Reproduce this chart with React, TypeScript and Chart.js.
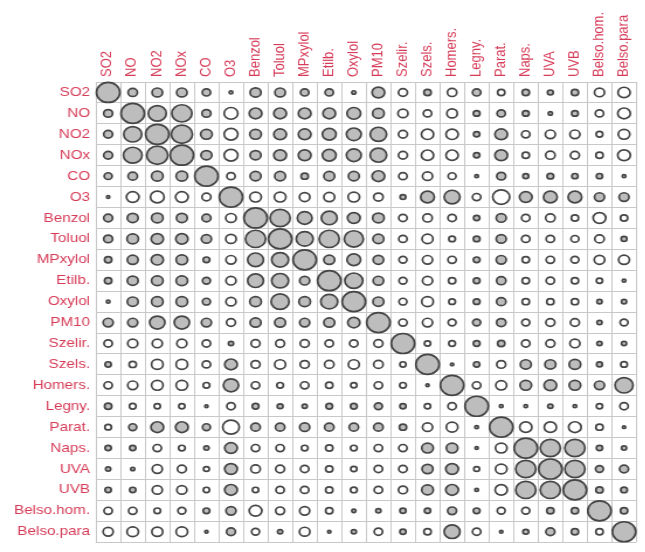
import React, { useEffect, useRef } from 'react';
import { Chart, registerables } from 'chart.js';

Chart.register(...registerables);

// Variable names (rows and columns share them)
const VARS: string[] = [
  'SO2', 'NO', 'NO2', 'NOx', 'CO', 'O3', 'Benzol', 'Toluol', 'MPxylol', 'Etilb.', 'Oxylol',
  'PM10', 'Szelir.', 'Szels.', 'Homers.', 'Legny.', 'Parat.', 'Naps.', 'UVA', 'UVB',
  'Belso.hom.', 'Belso.para',
];

// Correlation rows (positive = grey circle, negative = white circle, magnitude = size)
const SO2 = [1, .35, .4, .4, .3, .08, .42, .4, .3, .3, .1, .5, -.33, .25, -.35, .3, -.25, .25, .18, .25, -.38, -.48];
const NO = [.33, 1, .75, .85, .33, -.55, .5, .5, .5, .5, .55, .45, -.38, -.3, -.4, .22, .3, .22, .1, .22, -.3, -.5];
const NO2 = [.33, .75, 1, .9, .45, -.55, .45, .5, .5, .55, .6, .68, -.33, -.48, -.48, .2, .5, -.3, -.38, -.38, -.22, -.45];
const NOX = [.33, .78, .9, 1, .42, -.55, .42, .5, .5, .55, .6, .68, -.33, -.48, -.48, .2, .5, -.25, -.35, -.33, -.25, -.5];
const CO = [.28, .35, .45, .45, 1, -.3, .42, .42, .25, .42, .42, .5, -.3, -.38, -.28, .08, .33, .18, .22, .2, .2, .08];
const O3 = [.06, -.5, -.55, -.5, -.33, 1, -.45, -.45, -.4, -.42, -.45, -.35, .18, .55, .65, -.3, -.7, .5, .55, .55, .38, .38];
const BENZOL = [.33, .42, .45, .42, .33, -.4, 1, .85, .6, .65, .5, .45, -.3, -.35, -.3, .2, .38, -.3, -.35, -.25, -.5, -.25];
const TOLUOL = [.33, .45, .48, .48, .38, -.4, .85, 1, .7, .85, .8, .42, -.3, -.42, -.22, .22, .38, -.3, -.3, -.28, -.35, .18];
const MPXYLOL = [.25, .42, .48, .45, .22, -.38, .65, .7, 1, .42, .55, .4, -.28, -.38, -.3, .22, .38, -.25, -.3, -.28, -.4, -.42];
const ETILB = [.25, .42, .45, .45, .28, -.38, .65, .7, .38, 1, .75, .4, -.28, -.38, -.25, .22, .35, -.25, -.3, -.25, -.2, .08];
const OXYLOL = [.08, .42, .45, .45, .28, -.38, .45, .75, .45, .7, 1, .42, -.28, -.45, -.22, .22, .35, -.25, -.25, -.25, .15, .15];
const PM10 = [.38, .38, .62, .62, .38, -.33, .42, .42, .38, .42, .48, 1, -.3, -.38, -.28, .28, .35, -.28, -.33, -.33, .15, -.28];
const SZELIR = [-.3, -.38, -.38, -.38, -.3, .15, -.33, -.33, -.33, -.3, -.3, -.33, 1, -.2, -.22, .22, .25, -.3, -.33, -.38, .15, .15];
const SZELS = [.2, -.25, -.45, -.45, -.3, .5, -.33, -.42, -.33, -.35, -.42, -.35, -.2, 1, .06, .2, -.33, .42, .42, .45, .18, -.22];
const HOMERS = [-.3, -.38, -.45, -.45, -.22, .62, -.3, -.22, -.3, -.25, -.2, -.3, -.22, .06, 1, -.3, -.42, .45, .5, .45, .38, .75];
const LEGNY = [.25, -.22, -.2, -.2, .06, -.3, .22, .18, .15, .22, .22, .28, .2, -.2, -.3, 1, .08, .08, .15, .08, -.2, -.3];
const PARAT = [-.22, .28, .5, .5, .28, -.68, .35, .35, .38, .35, .35, .35, .25, -.38, -.45, .08, 1, -.48, -.48, -.5, -.25, .06];
const NAPS = [.2, .2, -.3, -.22, .15, .5, -.3, -.3, -.22, -.25, -.22, -.3, -.3, .45, .45, .06, -.45, 1, .85, .85, .2, .15];
const UVA = [.15, .1, -.38, -.33, -.18, .5, -.35, -.33, -.3, -.25, -.2, -.3, -.3, .42, .5, -.18, -.45, .85, 1, .85, .28, .33];
const UVB = [.2, .2, -.38, -.38, -.2, .5, -.2, -.3, -.3, -.25, -.22, -.3, -.33, .45, .5, .08, -.48, .85, .85, 1, .25, .22];
const BELSO_HOM = [-.3, -.3, -.22, -.28, .22, .38, -.5, -.33, -.38, -.25, .1, .15, .2, .2, .33, .22, -.28, -.28, .25, .25, 1, .25];
const BELSO_PARA = [-.38, -.45, -.42, -.45, .06, .33, -.28, .15, -.4, .06, .15, -.3, .2, -.25, .65, -.3, .06, .18, .33, .25, -.25, 1];

const ROWS: number[][] = [
  SO2, NO, NO2, NOX, CO, O3, BENZOL, TOLUOL, MPXYLOL, ETILB, OXYLOL, PM10,
  SZELIR, SZELS, HOMERS, LEGNY, PARAT, NAPS, UVA, UVB, BELSO_HOM, BELSO_PARA,
];

const RMIN = 0.8;
const RSCALE = 9.2;
const LABEL_COLOR = '#d63c58';
const GRID_COLOR = '#c8c8c8';
const FONT = { family: '"Liberation Sans", Arial, sans-serif', size: 13 };

export default function App() {
  const ref = useRef<HTMLCanvasElement>(null);

  useEffect(() => {
    if (!ref.current) return;
    const points: any[] = [];
    ROWS.forEach((row, i) => {
      row.forEach((v, j) => {
        points.push({ x: VARS[j], y: VARS[i], r: RMIN + Math.abs(v) * RSCALE, v });
      });
    });

    const chart = new Chart(ref.current, {
      type: 'bubble',
      data: {
        datasets: [
          {
            data: points,
            backgroundColor: (ctx: any) => (ctx.raw && ctx.raw.v > 0 ? '#bdbdbd' : '#ffffff'),
            borderColor: '#454545',
            borderWidth: 1.7,
            clip: false as any,
          },
        ],
      },
      options: {
        responsive: false,
        animation: false,
        devicePixelRatio: 1,
        layout: { padding: 0 },
        plugins: { legend: { display: false }, tooltip: { enabled: false } },
        scales: {
          x: {
            type: 'category',
            labels: VARS,
            position: 'top',
            offset: true,
            grid: { offset: true, color: GRID_COLOR, drawTicks: false, lineWidth: 1 },
            border: { color: GRID_COLOR },
            ticks: {
              autoSkip: false,
              minRotation: 90,
              maxRotation: 90,
              padding: 5,
              labelOffset: 15,
              color: LABEL_COLOR,
              font: FONT,
            },
            afterFit: (s: any) => {
              s.height = 82;
            },
          },
          y: {
            type: 'category',
            labels: VARS,
            position: 'left',
            offset: true,
            grid: { offset: true, color: GRID_COLOR, drawTicks: false, lineWidth: 1 },
            border: { color: GRID_COLOR },
            ticks: {
              autoSkip: false,
              padding: 5,
              color: LABEL_COLOR,
              font: FONT,
            },
            afterFit: (s: any) => {
              s.width = 82;
            },
          },
        },
      } as any,
    });
    return () => chart.destroy();
  }, []);

  return (
    <div
      style={{
        position: 'fixed',
        left: 0,
        top: 0,
        width: 645,
        height: 552,
        overflow: 'hidden',
        background: '#ffffff',
      }}
    >
      <canvas
        ref={ref}
        width={556}
        height={555}
        style={{ width: '650px', height: '555px', display: 'block' }}
      />
    </div>
  );
}
